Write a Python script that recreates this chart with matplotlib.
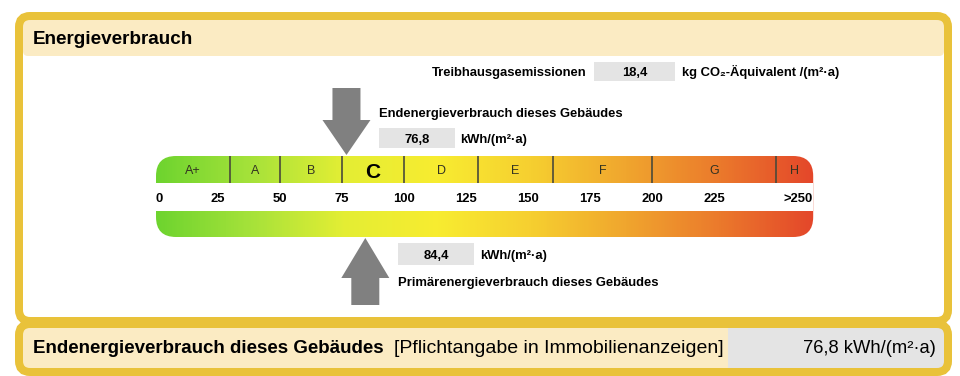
import numpy as np
import matplotlib
matplotlib.use('Agg')
import matplotlib.pyplot as plt
from matplotlib.colors import LinearSegmentedColormap
from matplotlib.patches import FancyBboxPatch, Rectangle, Polygon

plt.rcParams['font.family'] = ['Liberation Sans', 'DejaVu Sans']

# Energieeffizienzklassen (GEG) und Skala
classes = ['A+', 'A', 'B', 'C', 'D', 'E', 'F', 'G', 'H']
class_edges = [0, 30, 50, 75, 100, 130, 160, 200, 250, 265]
tick_values = [0, 25, 50, 75, 100, 125, 150, 175, 200, 225, 250]
tick_labels = ['0', '25', '50', '75', '100', '125', '150', '175', '200', '225', '>250']
building_class = 'C'
endenergie = 76.8
primaerenergie = 84.4
co2 = 18.4

grad_colors = ['#6ED42F', '#A6E23A', '#E4EE34', '#F8EC30', '#F6CF30',
               '#F0A62E', '#EB7A2C', '#E4472A']

GOLD = '#E9C23A'
CREAM = '#FBEBC3'
GREYBOX = '#E4E4E4'
ARROW = '#808080'


def fmt(v):
    return '{:.1f}'.format(v).replace('.', ',')


fig = plt.figure(figsize=(9.6, 3.76), dpi=100)

# pixel axes for frames and labels
base = fig.add_axes([0, 0, 1, 1])
base.set_xlim(0, 960)
base.set_ylim(376, 0)
base.axis('off')

lw_frame = 8 * 0.72
base.add_patch(FancyBboxPatch((19, 16), 929, 305, boxstyle='round,pad=0,rounding_size=11',
                              fc='white', ec='none', zorder=1))
base.add_patch(FancyBboxPatch((23, 20), 921, 36, boxstyle='round,pad=0,rounding_size=5',
                              fc=CREAM, ec='none', zorder=2))
base.add_patch(FancyBboxPatch((19, 16), 929, 305, boxstyle='round,pad=0,rounding_size=11',
                              fc='none', ec=GOLD, lw=lw_frame, zorder=3))

base.add_patch(FancyBboxPatch((19, 324), 929, 48, boxstyle='round,pad=0,rounding_size=11',
                              fc=CREAM, ec='none', zorder=1))
base.add_patch(Rectangle((728, 328), 216, 40, fc=GREYBOX, ec='none', zorder=2))
base.add_patch(FancyBboxPatch((19, 324), 929, 48, boxstyle='round,pad=0,rounding_size=11',
                              fc='none', ec=GOLD, lw=lw_frame, zorder=3))

base.text(33, 44, 'Energieverbrauch', fontsize=13.6, fontweight='bold', va='baseline', zorder=5)

# Treibhausgas line
small = dict(fontsize=9.4, fontweight='bold', va='baseline', zorder=5)
base.text(587, 76, 'Treibhausgasemissionen', ha='right', **small)
base.add_patch(Rectangle((594, 62), 81, 19, fc=GREYBOX, ec='none', zorder=4))
base.text(634.5, 76, fmt(co2), ha='center', **small)
base.text(682, 76, 'kg CO₂-Äquivalent /(m²·a)', ha='left', **small)

# Endenergie labels
base.text(379, 117, 'Endenergieverbrauch dieses Gebäudes', ha='left', **small)
base.add_patch(Rectangle((379, 128), 76, 20, fc=GREYBOX, ec='none', zorder=4))
base.text(417, 143, fmt(endenergie), ha='center', **small)
base.text(460, 143, 'kWh/(m²·a)', ha='left', **small)

# Primärenergie labels
base.add_patch(Rectangle((398, 243), 76, 22, fc=GREYBOX, ec='none', zorder=4))
base.text(436, 259, fmt(primaerenergie), ha='center', **small)
base.text(480, 259, 'kWh/(m²·a)', ha='left', **small)
base.text(398, 286, 'Primärenergieverbrauch dieses Gebäudes', ha='left', **small)

# bottom row
base.text(33, 353, 'Endenergieverbrauch dieses Gebäudes', fontsize=13.5, fontweight='bold',
          va='baseline', zorder=5)
base.text(394, 353, '[Pflichtangabe in Immobilienanzeigen]', fontsize=14, va='baseline', zorder=5)
base.text(936, 353, fmt(endenergie) + ' kWh/(m²·a)', fontsize=13.2, ha='right',
          va='baseline', zorder=5)

# scale axes: x in kWh/(m²·a), y in pixels
px0, ppu = 156, 2.48
ax = fig.add_axes([0, 0, 1, 1])
ax.axis('off')

cmap = LinearSegmentedColormap.from_list('geg', grad_colors)
grad = np.linspace(0, 1, 600)[None, :]
img = ax.imshow(grad, cmap=cmap, extent=[class_edges[0], class_edges[-1], 237, 156],
                aspect='auto', interpolation='bilinear', zorder=2)
ax.set_xlim(-px0 / ppu, (960 - px0) / ppu)
ax.set_ylim(376, 0)

# rounded outline of the two bars, built in pixel space from the scale ends
bar_left = px0 + class_edges[0] * ppu
bar_right = px0 + class_edges[-1] * ppu
clip = FancyBboxPatch((bar_left, 156), bar_right - bar_left, 81,
                      boxstyle='round,pad=0,rounding_size=20',
                      transform=base.transData, fc='none', ec='none')
img.set_clip_path(clip)
ax.add_patch(Rectangle((class_edges[0], 183), class_edges[-1] - class_edges[0], 28,
                       fc='white', ec='none', zorder=3))

ax.vlines(class_edges[1:-1], 156, 183, colors='#4a4a3a', lw=1.2, zorder=4)

for i, c in enumerate(classes):
    mid = (class_edges[i] + class_edges[i + 1]) / 2
    if c == building_class:
        ax.text(mid, 177.5, c, ha='center', va='baseline', fontsize=15,
                fontweight='bold', color='black', zorder=5)
    else:
        ax.text(mid, 174, c, ha='center', va='baseline', fontsize=9,
                color='#333322', zorder=5)

for v, lab in zip(tick_values, tick_labels):
    if v == tick_values[0]:
        ha, x = 'left', class_edges[0]
    elif v == tick_values[-1]:
        ha, x = 'right', class_edges[-1]
    else:
        ha, x = 'center', v
    ax.text(x, 202, lab, ha=ha, va='baseline', fontsize=9.4, fontweight='bold', zorder=5)


def block_arrow(val, tail, neck, tip):
    hs, hh = 14 / ppu, 24 / ppu
    pts = [(val - hs, tail), (val + hs, tail), (val + hs, neck), (val + hh, neck),
           (val, tip), (val - hh, neck), (val - hs, neck)]
    ax.add_patch(Polygon(pts, closed=True, fc=ARROW, ec='none', zorder=6))


block_arrow(endenergie, 88, 120, 155)
block_arrow(primaerenergie, 305, 278, 238)

fig.savefig('out.png', dpi=100)
